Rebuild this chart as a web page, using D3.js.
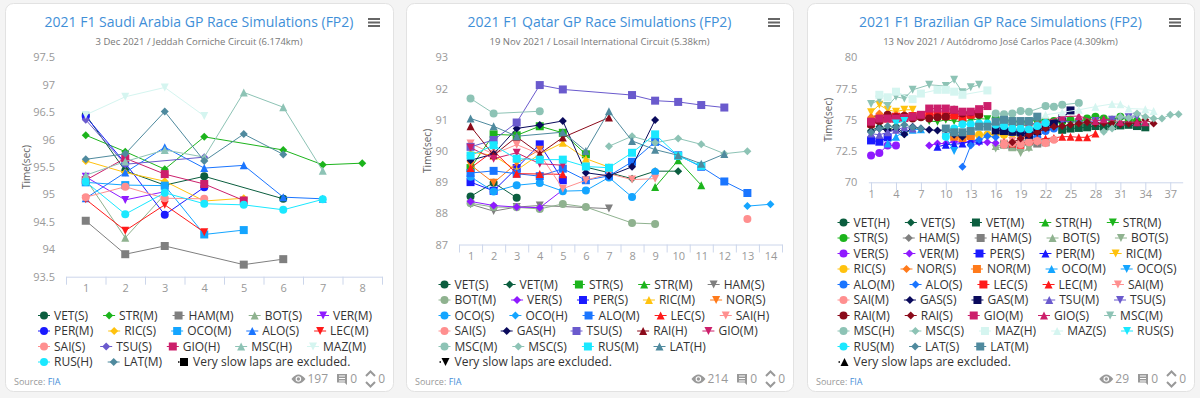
<!DOCTYPE html>
<html>
<head>
<meta charset="utf-8">
<script src="https://cdn.jsdelivr.net/npm/d3@7"></script>
<style>
  body { margin: 0; background: #f4f4f4; font-family: "Open Sans", sans-serif; }
  svg { display: block; }
</style>
</head>
<body>
<svg id="chart" width="1200" height="398"></svg>
<script>
const titles = [
  "2021 F1 Saudi Arabia GP Race Simulations (FP2)",
  "2021 F1 Qatar GP Race Simulations (FP2)",
  "2021 F1 Brazilian GP Race Simulations (FP2)"
];
const subtitles = [
  "3 Dec 2021 / Jeddah Corniche Circuit (6.174km)",
  "19 Nov 2021 / Losail International Circuit (5.38km)",
  "13 Nov 2021 / Autódromo José Carlos Pace (4.309km)"
];
const views = [197, 214, 29];
const comments = [0, 0, 0];
const votes = [0, 0, 0];

// Saudi Arabia
const saudiSeries = ["VET(S)", "STR(M)", "HAM(M)", "BOT(S)", "VER(M)", "PER(M)", "RIC(S)", "OCO(M)", "ALO(S)",
  "LEC(M)", "SAI(S)", "TSU(S)", "GIO(H)", "MSC(H)", "MAZ(M)", "RUS(H)", "LAT(M)", "Very slow laps are excluded."];
const saudiLaps = [
  [[1, 96.45], [2, 95.43], [3, 95.17], [4, 95.33], [6, 94.92]],
  [[1, 96.08], [2, 95.78], [3, 95.46], [4, 96.05], [6, 95.81], [7, 95.54], [8, 95.57]],
  [[1, 94.52], [2, 93.91], [3, 94.06], [5, 93.72], [6, 93.82]],
  [[1, 95.28], [2, 94.21], [3, 95.0]],
  [[1, 95.32], [2, 94.9], [3, 95.05]],
  [[1, 96.42], [2, 95.57], [3, 94.63], [4, 95.13]],
  [[1, 95.61], [2, 95.4], [3, 95.24], [4, 94.88], [5, 94.93]],
  [[1, 95.22], [2, 95.17], [3, 95.16], [4, 94.27], [5, 94.35]],
  [[1, 94.93], [2, 95.4], [3, 95.86], [4, 95.48], [5, 95.53], [6, 94.95], [7, 94.92]],
  [[1, 94.91], [2, 94.34], [3, 94.81], [4, 94.31]],
  [[1, 94.95], [2, 95.14], [3, 94.93], [4, 94.92]],
  [[1, 96.36], [2, 95.55], [4, 95.68]],
  [[1, 95.26], [2, 95.66], [3, 95.37], [4, 95.19], [5, 94.89]],
  [[1, 95.35], [2, 95.6], [3, 95.81], [4, 95.68], [5, 96.86], [6, 96.59], [7, 95.43]],
  [[1, 96.45], [2, 96.78], [3, 96.95], [4, 96.43]],
  [[1, 95.23], [2, 94.64], [3, 95.03], [4, 94.83], [5, 94.81], [6, 94.72], [7, 94.91]],
  [[1, 95.64], [2, 95.74], [3, 96.51], [4, 95.61], [5, 96.1], [6, 95.73]],
  []
];
const saudiYTicks = [93.5, 94, 94.5, 95, 95.5, 96, 96.5, 97, 97.5];
const saudiXTicks = [1, 2, 3, 4, 5, 6, 7, 8];

// Qatar
const qatarSeries = ["VET(S)", "VET(M)", "STR(S)", "STR(M)", "HAM(S)", "BOT(M)", "VER(S)", "PER(S)", "RIC(M)", "NOR(S)",
  "OCO(S)", "OCO(H)", "ALO(M)", "LEC(S)", "SAI(H)", "SAI(S)", "GAS(H)", "TSU(S)", "RAI(H)", "GIO(M)",
  "MSC(M)", "MSC(S)", "RUS(M)", "LAT(H)", "Very slow laps are excluded."];
const qatarLaps = [
  [[1, 88.54], [2, 88.98], [3, 88.5]],
  [[6, 89.48], [7, 89.3], [8, 89.11], [9, 89.35], [10, 89.35]],
  [[1, 89.45], [2, 90.53], [3, 90.5], [4, 90.79], [5, 90.58], [6, 89.89]],
  [[9, 88.84], [10, 89.7], [11, 88.9]],
  [[1, 88.29], [2, 88.07], [3, 88.2], [4, 88.25], [7, 88.15]],
  [[1, 88.32], [2, 88.2], [3, 88.19], [4, 88.14], [5, 88.3], [6, 88.2], [8, 87.69], [9, 87.66]],
  [[1, 88.38], [2, 88.25], [3, 88.2], [4, 88.18], [5, 88.75]],
  [[1, 89.0], [2, 88.72], [3, 89.45], [4, 90.21], [5, 89.06]],
  [[1, 89.97], [2, 89.85], [3, 89.38], [4, 89.9], [5, 90.26], [6, 89.75], [7, 89.48]],
  [[1, 89.55], [2, 88.98], [3, 89.6], [4, 90.04]],
  [[1, 89.17], [2, 88.7], [3, 88.9], [4, 88.97], [5, 88.71], [6, 88.73], [7, 89.15], [8, 88.52], [9, 89.32]],
  [[13, 88.23], [14, 88.29]],
  [[1, 89.29], [2, 89.36], [3, 89.27], [4, 89.19], [5, 89.43], [6, 89.06], [7, 89.2], [8, 89.65], [9, 90.29],
    [10, 89.86], [11, 89.49], [12, 89.02], [13, 88.65]],
  [[1, 89.45], [2, 90.0], [3, 89.27], [4, 89.26], [5, 89.25]],
  [[1, 90.24], [2, 89.9], [3, 90.2], [4, 89.9], [5, 88.79], [6, 89.06], [7, 89.27], [8, 89.08], [9, 89.11]],
  [[13, 87.82]],
  [[1, 89.7], [2, 89.9], [3, 90.72], [4, 90.83], [5, 90.96], [6, 89.3], [7, 89.2], [8, 89.49], [9, 90.99]],
  [[1, 90.13], [2, 90.35], [3, 90.91], [4, 92.11], [5, 91.97], [8, 91.79], [9, 91.61], [10, 91.57], [11, 91.47], [12, 91.39]],
  [[1, 90.79], [2, 89.86], [3, 90.45], [4, 89.91], [5, 90.43], [7, 91.07]],
  [[1, 90.1], [2, 89.75], [3, 89.94], [4, 89.59], [5, 89.54]],
  [[1, 91.68], [2, 91.2], [4, 91.27]],
  [[7, 90.15], [8, 90.47], [9, 90.26], [10, 90.4], [11, 90.21], [12, 89.91], [13, 89.99]],
  [[1, 89.85], [2, 90.18], [3, 89.75], [4, 89.72], [5, 89.72], [6, 89.5], [7, 89.46], [8, 89.94], [9, 90.53],
    [10, 89.84], [11, 89.52]],
  [[1, 91.04], [2, 90.79], [3, 90.47], [5, 90.6], [6, 90.0], [7, 91.27], [8, 90.32], [9, 90.04], [10, 89.86],
    [11, 89.59], [12, 89.9]],
  []
];
const qatarYTicks = [87, 88, 89, 90, 91, 92, 93];
const qatarXTicks = [1, 2, 3, 4, 5, 6, 7, 8, 9, 10, 11, 12, 13, 14];

// Brazil
const brazilSeries = ["VET(H)", "VET(S)", "VET(M)", "STR(H)", "STR(M)", "STR(S)", "HAM(S)", "HAM(S)", "BOT(S)", "BOT(S)",
  "VER(S)", "VER(M)", "PER(S)", "PER(M)", "RIC(M)", "RIC(S)", "NOR(S)", "NOR(M)", "OCO(M)", "OCO(S)",
  "ALO(M)", "ALO(S)", "LEC(S)", "LEC(M)", "SAI(M)", "SAI(M)", "GAS(S)", "GAS(M)", "TSU(M)", "TSU(S)",
  "RAI(M)", "RAI(S)", "GIO(M)", "GIO(S)", "MSC(M)", "MSC(H)", "MSC(S)", "MAZ(H)", "MAZ(S)", "RUS(S)",
  "RUS(M)", "LAT(S)", "LAT(M)", "Very slow laps are excluded."];
const brazilLaps = [
  [[1, 74.7], [2, 74.9], [3, 75.35], [4, 75.1], [5, 75.2], [6, 75.3]],
  [[1, 74.15], [2, 74.45], [3, 74.2], [4, 74.5], [5, 73.85], [6, 74.3]],
  [[24, 74.2], [25, 74.3], [26, 74.35], [27, 74.4], [28, 74.5], [29, 74.45], [30, 74.5], [31, 74.55], [32, 74.6], [33, 74.5], [34, 74.4]],
  [[1, 75.3], [2, 75.2], [3, 75.25], [4, 75.1], [5, 75.2], [6, 75.25], [7, 75.3]],
  [[8, 74.9], [9, 74.85], [10, 75.0], [11, 74.9], [12, 74.85], [13, 74.95], [14, 75.1], [15, 75.05]],
  [[16, 75.1], [17, 75.0], [18, 74.9], [19, 74.8], [20, 74.9], [21, 75.0], [22, 74.95], [23, 74.9], [24, 74.85],
    [25, 75.0], [26, 74.8], [27, 75.1], [28, 75.25], [29, 75.1], [30, 75.0], [31, 75.25], [32, 75.05], [33, 74.9]],
  [[16, 74.6], [17, 74.7], [18, 74.5], [19, 74.6], [20, 74.5], [21, 74.7]],
  [[17, 73.05], [18, 72.85], [19, 73.1], [20, 73.25], [21, 73.1], [22, 73.2]],
  [[16, 72.9], [17, 73.0], [18, 72.8], [19, 73.1], [20, 72.85]],
  [[16, 72.7], [17, 72.95], [18, 72.85], [19, 72.35], [20, 72.7]],
  [[1, 72.15], [2, 72.35], [3, 72.95], [4, 72.95]],
  [[8, 72.95], [9, 73.1], [10, 73.1], [11, 73.25], [12, 73.2], [13, 73.25], [14, 73.2], [15, 73.2], [16, 73.15]],
  [[1, 73.35], [2, 73.25], [3, 73.6]],
  [[9, 72.85], [10, 73.0], [11, 73.05], [12, 73.1], [13, 73.3], [14, 73.35]],
  [[1, 75.6], [2, 76.2], [3, 75.8], [4, 75.65], [5, 75.8], [6, 75.8]],
  [[11, 73.75], [12, 73.6], [13, 73.7], [14, 73.8], [15, 73.8], [16, 73.85], [17, 73.8], [18, 73.9], [19, 73.75], [20, 73.7]],
  [[1, 75.2], [2, 75.5], [3, 75.35], [4, 75.4], [5, 75.45], [6, 75.3]],
  [[11, 73.65], [12, 73.55], [13, 73.7]],
  [[3, 73.1], [4, 73.65], [5, 74.05], [6, 74.2], [7, 74.25]],
  [[10, 73.6], [11, 72.5]],
  [[18, 74.0], [19, 73.9], [20, 73.7], [21, 73.6], [22, 74.1], [23, 74.3]],
  [[12, 71.25], [13, 72.95], [14, 73.4], [15, 73.7], [16, 73.6]],
  [[1, 74.7], [2, 75.0], [3, 75.1], [4, 75.25], [5, 75.2], [6, 75.3], [7, 75.35], [8, 75.4], [9, 75.4], [10, 75.3],
    [11, 75.35], [12, 75.2], [13, 75.4], [14, 75.5]],
  [[17, 73.25], [18, 73.1], [19, 73.0], [20, 73.3], [21, 73.4], [22, 73.5], [23, 73.55], [24, 73.65], [25, 73.65],
    [26, 73.6], [27, 73.6], [28, 73.9]],
  [[17, 73.1], [18, 73.3], [19, 73.2], [20, 73.35], [21, 73.2], [22, 73.1]],
  [[17, 73.0], [18, 73.15], [19, 73.05], [20, 73.2], [21, 73.3], [22, 73.15], [23, 73.4]],
  [[1, 74.05], [2, 74.3], [3, 74.15], [4, 74.2], [5, 73.85], [6, 74.45], [7, 74.3], [8, 74.2], [9, 74.15], [10, 74.2],
    [11, 73.8], [12, 73.65]],
  [[16, 74.15], [17, 74.1], [18, 74.05], [19, 74.0], [20, 73.8], [21, 74.1], [22, 74.45], [23, 74.7], [24, 75.1], [25, 75.75]],
  [[1, 73.9], [2, 73.8], [3, 74.0], [4, 74.2], [5, 74.4], [6, 74.3]],
  [[24, 74.9], [26, 74.8], [28, 74.9], [30, 75.0], [32, 75.2], [33, 75.25]],
  [[1, 74.6], [2, 74.9], [3, 75.4], [4, 75.2], [5, 75.3], [6, 75.1], [7, 75.2], [8, 75.1], [9, 75.2], [10, 75.25],
    [11, 75.8], [12, 75.5], [13, 75.6], [14, 75.4]],
  [[18, 73.2], [19, 73.5], [20, 73.8], [21, 74.0], [22, 74.3], [23, 74.45], [24, 74.5], [25, 74.6], [26, 74.7],
    [27, 74.8], [28, 74.7], [29, 74.75], [30, 74.7], [31, 74.65], [32, 74.7], [33, 74.75], [34, 75.0], [35, 74.7]],
  [[1, 74.85], [2, 75.1], [3, 75.1], [4, 75.1], [5, 75.15], [6, 75.25], [7, 75.4], [8, 75.9], [9, 75.9], [10, 75.9],
    [11, 75.8], [12, 75.65], [13, 75.65], [14, 75.85], [15, 76.1]],
  [[20, 74.6], [22, 74.9], [24, 75.25], [26, 75.3], [28, 74.9], [29, 75.05], [31, 74.85], [33, 74.8], [34, 74.8]],
  [[1, 76.27], [2, 76.6], [3, 76.1], [4, 76.85], [5, 76.7], [6, 77.4], [8, 77.8], [10, 77.7], [11, 78.2], [12, 77.2],
    [13, 77.6], [14, 77.8]],
  [[16, 75.5], [17, 75.45], [18, 75.5], [19, 75.7], [20, 75.65], [22, 76.1], [23, 76.05], [24, 76.2], [26, 76.35]],
  [[29, 74.05], [30, 74.3], [31, 75.25], [32, 75.15], [33, 75.5], [34, 75.25], [35, 75.1], [36, 75.1], [37, 75.4], [38, 75.45]],
  [[2, 77.0], [3, 76.8], [4, 77.25], [6, 76.65], [7, 77.1], [9, 77.4], [10, 77.4], [11, 77.25], [12, 77.0], [15, 77.35]],
  [[22, 75.4], [24, 75.6], [26, 75.8], [28, 76.05], [30, 76.27], [31, 76.25], [32, 75.9], [34, 75.85], [35, 75.7]],
  [[4, 74.7], [5, 74.9]],
  [[10, 73.65], [11, 74.3], [12, 74.65], [13, 74.65], [14, 74.7], [15, 74.7], [16, 74.6], [17, 74.5], [18, 74.3],
    [19, 74.3], [20, 74.25], [21, 74.5], [22, 74.75]],
  [[1, 74.0], [2, 74.3], [3, 74.5], [4, 74.4], [5, 74.6], [6, 74.4], [7, 74.3]],
  [[10, 74.3], [11, 74.0], [12, 74.0], [13, 74.1], [14, 74.45], [15, 74.45], [16, 74.85], [17, 75.0], [18, 74.9],
    [19, 74.9], [20, 74.9], [21, 75.25]],
  []
];
const brazilYTicks = [70, 72.5, 75, 77.5, 80];
const brazilXTicks = [1, 4, 7, 10, 13, 16, 19, 22, 25, 28, 31, 34, 37];

// styles
const driverColor = {
  VET: "#0b5e3f", STR: "#1cb41c", HAM: "#7f7f7f", BOT: "#8fb28f", VER: "#8f1aff",
  PER: "#1a1aff", RIC: "#ffc20e", NOR: "#ff7a1a", OCO: "#14a5ff", ALO: "#1a75ff",
  LEC: "#ff1a1a", SAI: "#ff8f8f", GAS: "#0a0a5c", TSU: "#6a5acd", RAI: "#8b0a1a",
  GIO: "#cc1f6b", MSC: "#8dc3b5", MAZ: "#d5f5f0", RUS: "#1ae8ff", LAT: "#4f8a9e"
};
const symbols = ["circle", "diamond", "square", "triangle", "triangle-down"];
const axisColor = "#ccd6eb";

const panels = [
  { x: 5, w: 388, names: saudiSeries, laps: saudiLaps, yTicks: saudiYTicks, xTicks: saudiXTicks,
    xDomain: [0.5, 8.5], xRange: [66, 382], yDomain: [93.5, 97.5], yRange: [276.7, 57.3], between: true, legendX: 38 },
  { x: 406, w: 387, names: qatarSeries, laps: qatarLaps, yTicks: qatarYTicks, xTicks: qatarXTicks,
    xDomain: [0.5, 14.5], xRange: [459, 782], yDomain: [87, 93], yRange: [244.5, 57.3], between: true, legendX: 438.5 },
  { x: 807, w: 387, names: brazilSeries, laps: brazilLaps, yTicks: brazilYTicks, xTicks: brazilXTicks,
    xDomain: [0.67, 38.5], xRange: [868.3, 1182.7], yDomain: [70, 80], yRange: [182.3, 57.3], between: false, legendX: 837.5 }
];

function markerPath(type, r = 4) {
  if (type === "circle") return `M${-r},0a${r},${r} 0 1,0 ${2 * r},0a${r},${r} 0 1,0 ${-2 * r},0Z`;
  if (type === "diamond") return `M0,${-r}L${r},0L0,${r}L${-r},0Z`;
  if (type === "square") return `M${-r},${-r}h${2 * r}v${2 * r}h${-2 * r}Z`;
  if (type === "triangle") return `M0,${-r}L${r},${r}L${-r},${r}Z`;
  return `M${-r},${-r}L${r},${-r}L0,${r}Z`;
}

function seriesColor(name) {
  return driverColor[name.slice(0, 3)] || "#000";
}

const svg = d3.select("#chart");

panels.forEach((p, pi) => {
  const g = svg.append("g");
  const right = p.x + p.w;
  const cx = p.x + p.w / 2;

  g.append("rect")
    .attr("x", p.x + 0.5).attr("y", 3.5)
    .attr("width", p.w).attr("height", 388)
    .attr("rx", 8)
    .attr("fill", "#fff")
    .attr("stroke", "#e2e2e2");

  g.append("text")
    .attr("x", cx).attr("y", 27)
    .attr("text-anchor", "middle")
    .attr("font-size", 14)
    .attr("fill", "#3f8fd8")
    .text(titles[pi]);

  g.append("text")
    .attr("x", cx).attr("y", 44.5)
    .attr("text-anchor", "middle")
    .attr("font-size", 9.5)
    .attr("fill", "#777")
    .text(subtitles[pi]);

  // menu icon
  [19, 22.5, 26].forEach(y => {
    g.append("rect")
      .attr("x", right - 25).attr("y", y - 1)
      .attr("width", 12).attr("height", 2)
      .attr("fill", "#666");
  });

  const xScale = d3.scaleLinear().domain(p.xDomain).range(p.xRange);
  const yScale = d3.scaleLinear().domain(p.yDomain).range(p.yRange);
  const axisY = p.yRange[0];

  // y labels
  const yAxis = g.append("g")
    .attr("transform", `translate(${p.xRange[0]},0)`)
    .call(d3.axisLeft(yScale).tickValues(p.yTicks).tickSize(0).tickPadding(11).tickFormat(d => String(d)));
  yAxis.select(".domain").remove();
  yAxis.selectAll("text").attr("fill", "#999").attr("font-size", 11).attr("font-family", "Open Sans");

  g.append("text")
    .attr("transform", `translate(${p.x + 21},${(p.yRange[0] + p.yRange[1]) / 2}) rotate(-90)`)
    .attr("text-anchor", "middle")
    .attr("dy", "0.35em")
    .attr("font-size", 10)
    .attr("fill", "#666")
    .text("Time(sec)");

  // x axis: line + tick marks
  const tickVals = p.between
    ? d3.range(p.xDomain[0], p.xDomain[1] + 0.01, 1)
    : p.xTicks;
  const xAxis = g.append("g")
    .attr("transform", `translate(0,${axisY})`)
    .call(d3.axisBottom(xScale).tickValues(tickVals).tickSize(8).tickSizeOuter(0).tickFormat(""));
  xAxis.select(".domain").attr("stroke", axisColor);
  xAxis.selectAll(".tick line").attr("stroke", axisColor);

  const xLabels = g.append("g")
    .attr("transform", `translate(0,${axisY})`)
    .call(d3.axisBottom(xScale).tickValues(p.xTicks).tickSize(0).tickPadding(8).tickFormat(d => String(d)));
  xLabels.select(".domain").remove();
  xLabels.selectAll("text").attr("fill", "#999").attr("font-size", 11).attr("font-family", "Open Sans");

  // series
  const line = d3.line().x(d => xScale(d[0])).y(d => yScale(d[1]));
  p.names.forEach((name, si) => {
    const data = p.laps[si];
    const color = seriesColor(name);
    const sg = g.append("g");
    sg.append("path")
      .datum(data)
      .attr("d", line)
      .attr("fill", "none")
      .attr("stroke", color)
      .attr("stroke-width", 1);
    sg.selectAll("path.pt")
      .data(data)
      .enter()
      .append("path")
      .attr("class", "pt")
      .attr("transform", d => `translate(${xScale(d[0])},${yScale(d[1])})`)
      .attr("d", markerPath(symbols[si % 5]))
      .attr("fill", color);
  });

  // legend (flow layout, five items a row at most)
  const items = [];
  let row = 0, lx = p.legendX, count = 0;
  const maxRight = p.legendX + 360;
  const lg = g.append("g");
  p.names.forEach((name, si) => {
    const t = lg.append("text")
      .attr("font-size", 12)
      .attr("fill", "#333")
      .attr("dy", "0.35em")
      .text(name);
    const tw = t.node().getComputedTextLength();
    if (count > 0 && (count === 5 || lx + 16 + tw > maxRight)) {
      row += 1; lx = p.legendX; count = 0;
    }
    items.push({ name, si, t, sx: lx, row });
    lx += 16 + tw + 15;
    count += 1;
  });
  const rowStart = 362 - row * 15.5;
  items.forEach(it => {
    const y = rowStart + it.row * 15.5;
    const color = seriesColor(it.name);
    const slow = it.name.startsWith("Very");
    it.t.attr("x", it.sx + 16).attr("y", y);
    if (slow) {
      lg.append("rect").attr("x", it.sx + 1).attr("y", y - 0.75).attr("width", 1.5).attr("height", 1.5).attr("fill", color);
    } else {
      lg.append("line")
        .attr("x1", it.sx).attr("x2", it.sx + 12)
        .attr("y1", y).attr("y2", y)
        .attr("stroke", color).attr("stroke-width", 1);
    }
    lg.append("path")
      .attr("transform", `translate(${it.sx + (slow ? 7 : 6)},${y})`)
      .attr("d", markerPath(symbols[it.si % 5]))
      .attr("fill", color);
  });

  // footer
  const src = g.append("text")
    .attr("x", p.x + 9).attr("y", 385)
    .attr("font-size", 9)
    .attr("fill", "#999");
  src.append("tspan").text("Source: ");
  src.append("tspan").attr("fill", "#4a90d9").text("FIA");

  const fy = 379;
  g.append("text")
    .attr("x", right - 8).attr("y", fy).attr("dy", "0.35em")
    .attr("text-anchor", "end").attr("font-size", 12).attr("fill", "#999")
    .text(votes[pi]);
  g.append("path")
    .attr("d", `M${right - 27},${fy - 3}L${right - 22.5},${fy - 7.5}L${right - 18},${fy - 3}M${right - 27},${fy + 3}L${right - 22.5},${fy + 7.5}L${right - 18},${fy + 3}`)
    .attr("fill", "none").attr("stroke", "#999").attr("stroke-width", 2);
  g.append("text")
    .attr("x", right - 36).attr("y", fy).attr("dy", "0.35em")
    .attr("text-anchor", "end").attr("font-size", 12).attr("fill", "#999")
    .text(comments[pi]);
  g.append("path")
    .attr("d", `M${right - 56},${fy - 5}h10v11l-2.5,-2.5h-7.5Z`)
    .attr("fill", "#999");
  [fy - 3, fy - 0.5, fy + 2].forEach(y => {
    g.append("rect").attr("x", right - 54).attr("y", y - 0.5).attr("width", 6).attr("height", 1).attr("fill", "#fff");
  });
  const vt = g.append("text")
    .attr("x", right - 65).attr("y", fy).attr("dy", "0.35em")
    .attr("text-anchor", "end").attr("font-size", 12).attr("fill", "#999")
    .text(views[pi]);
  const ex = right - 65 - vt.node().getComputedTextLength() - 9;
  g.append("path")
    .attr("d", `M${ex - 7},${fy}Q${ex},${fy - 9} ${ex + 7},${fy}Q${ex},${fy + 9} ${ex - 7},${fy}Z`)
    .attr("fill", "#999");
  g.append("circle").attr("cx", ex).attr("cy", fy).attr("r", 2.8).attr("fill", "#fff");
  g.append("circle").attr("cx", ex).attr("cy", fy).attr("r", 1.7).attr("fill", "#999");
});
</script>
</body>
</html>
